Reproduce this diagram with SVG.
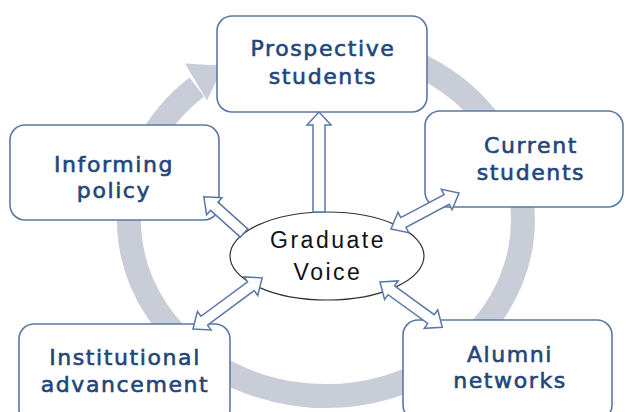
<svg xmlns="http://www.w3.org/2000/svg" width="626" height="412" viewBox="0 0 626 412">
  <style>
    .box { fill: #ffffff; stroke: #5a78a6; stroke-width: 1.6; }
    .lbl { font-family: "DejaVu Sans", Verdana, sans-serif; font-size: 22px; fill: #22467a; stroke: #22467a; stroke-width: 0.6; text-anchor: middle; letter-spacing: 1.6px; }
    .core { font-family: "Liberation Sans", Arial, sans-serif; font-size: 23px; fill: #111111; text-anchor: middle; letter-spacing: 2.5px; }
    .blk { fill: #ffffff; stroke: #5a78a6; stroke-width: 1.5; stroke-linejoin: miter; }
    .ring { fill: none; stroke: #c9cdd7; stroke-width: 24; }
  </style>

  <!-- circular flow behind everything -->
  <g id="cycle">
    <path class="ring" d="M343.2,44.7 A197,176 0 1 1 196.8,87.1"/>
    <polygon fill="#c9cdd7" points="185,63.5 223.5,65.7 207,100.5"/>
  </g>

  <g id="prospective">
    <rect class="box" x="217" y="16" width="210" height="96" rx="15"/>
    <text class="lbl" x="323" y="56">Prospective</text>
    <text class="lbl" x="323" y="84">students</text>
  </g>

  <g id="informing">
    <rect class="box" x="10" y="125" width="209" height="95" rx="15"/>
    <text class="lbl" x="114" y="172">Informing</text>
    <text class="lbl" x="114" y="198">policy</text>
  </g>

  <g id="current">
    <rect class="box" x="425" y="111" width="198" height="96" rx="15"/>
    <text class="lbl" x="531" y="153">Current</text>
    <text class="lbl" x="531" y="180">students</text>
  </g>

  <g id="institutional">
    <rect class="box" x="19" y="324" width="211" height="100" rx="15"/>
    <text class="lbl" x="125" y="365">Institutional</text>
    <text class="lbl" x="125" y="392">advancement</text>
  </g>

  <g id="alumni">
    <rect class="box" x="403" y="320" width="209" height="100" rx="15"/>
    <text class="lbl" x="510" y="362">Alumni</text>
    <text class="lbl" x="510" y="388">networks</text>
  </g>

  <g id="graduate-voice">
    <ellipse cx="327" cy="256" rx="97" ry="44" fill="#ffffff" stroke="#333333" stroke-width="1.2"/>
    <text class="core" x="328" y="248">Graduate</text>
    <text class="core" x="328" y="280">Voice</text>
  </g>

  <!-- block arrows from the centre -->
  <g id="connectors">
    <polygon class="blk" transform="translate(319,212) rotate(-90)" points="0,-6 87,-6 87,-12 100,0 87,12 87,6 0,6"/>
    <polygon class="blk" transform="translate(244,233) rotate(-138)" points="0,-5.5 40,-5.5 40,-11.5 54,0 40,11.5 40,5.5 0,5.5"/>
    <polygon class="blk" transform="translate(391,229) rotate(-27.9)" points="0,0 14,-11.5 14,-5.5 63,-5.5 63,-11.5 77,0 63,11.5 63,5.5 14,5.5 14,11.5"/>
    <polygon class="blk" transform="translate(193,329) rotate(-36.5)" points="0,0 14,-11.5 14,-5.5 72,-5.5 72,-11.5 86,0 72,11.5 72,5.5 14,5.5 14,11.5"/>
    <polygon class="blk" transform="translate(380,282) rotate(36)" points="0,0 14,-11.5 14,-5.5 63,-5.5 63,-11.5 77,0 63,11.5 63,5.5 14,5.5 14,11.5"/>
  </g>
</svg>
